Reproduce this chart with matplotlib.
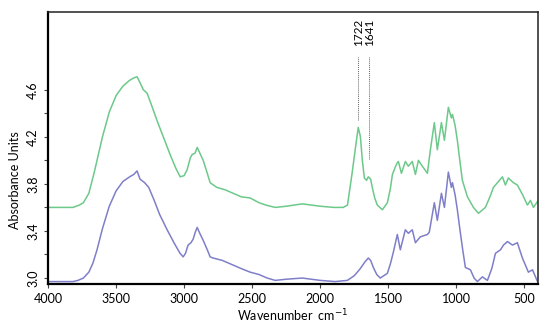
import numpy as np
import matplotlib
matplotlib.use("Agg")
import matplotlib.pyplot as plt
from matplotlib.ticker import MultipleLocator, FixedLocator

plt.rcParams['font.family'] = ['Lato', 'DejaVu Sans']

# upper (green) spectrum, wavenumber cm-1 / absorbance
wn_top = [4000, 3900, 3816, 3770, 3740, 3700, 3660, 3600, 3550, 3500, 3450,
          3400, 3370, 3346, 3320, 3300, 3272, 3240, 3200, 3150, 3100, 3060,
          3029, 3000, 2978, 2955, 2941, 2920, 2904, 2880, 2860, 2830, 2809,
          2760, 2700, 2640, 2580, 2515, 2450, 2400, 2331, 2250, 2132, 2000,
          1900, 1831, 1800, 1765, 1740, 1721, 1705, 1691, 1676, 1660, 1647,
          1630, 1618, 1600, 1581, 1544, 1507, 1485, 1470, 1450, 1434, 1426,
          1404, 1375, 1353, 1324, 1301, 1279, 1250, 1213, 1191, 1162, 1140,
          1110, 1088, 1059, 1037, 1029, 1010, 993, 975, 956, 919, 875, 838,
          787, 750, 728, 691, 662, 640, 618, 581, 552, 515, 478, 456, 434,
          404]
ab_top = [3.60, 3.60, 3.60, 3.62, 3.64, 3.72, 3.90, 4.20, 4.41, 4.55, 4.63,
          4.68, 4.70, 4.71, 4.65, 4.60, 4.57, 4.47, 4.34, 4.19, 4.04, 3.93,
          3.86, 3.87, 3.92, 4.02, 4.05, 4.06, 4.11, 4.05, 4.00, 3.89, 3.81,
          3.77, 3.75, 3.72, 3.69, 3.68, 3.64, 3.62, 3.60, 3.61, 3.63, 3.61,
          3.60, 3.60, 3.62, 3.90, 4.12, 4.28, 4.20, 4.00, 3.85, 3.83, 3.86,
          3.84, 3.77, 3.68, 3.62, 3.58, 3.64, 3.76, 3.88, 3.94, 3.98, 3.99,
          3.89, 3.99, 3.95, 3.99, 3.88, 4.00, 3.95, 3.89, 4.09, 4.32, 4.09,
          4.32, 4.17, 4.45, 4.36, 4.39, 4.30, 4.17, 4.00, 3.83, 3.69, 3.60,
          3.55, 3.60, 3.70, 3.77, 3.82, 3.86, 3.79, 3.85, 3.81, 3.79, 3.71,
          3.62, 3.66, 3.60, 3.65]

# lower (blue) spectrum
wn_bot = [4000, 3900, 3816, 3780, 3740, 3700, 3669, 3640, 3600, 3550, 3500,
          3450, 3400, 3370, 3346, 3324, 3290, 3260, 3220, 3180, 3125, 3070,
          3030, 3007, 2990, 2971, 2950, 2934, 2918, 2904, 2885, 2860, 2830,
          2809, 2787, 2720, 2640, 2580, 2515, 2450, 2390, 2331, 2250, 2132,
          2000, 1890, 1801, 1750, 1706, 1670, 1647, 1630, 1610, 1585, 1559,
          1507, 1485, 1463, 1434, 1412, 1375, 1353, 1324, 1301, 1265, 1213,
          1199, 1162, 1140, 1110, 1088, 1059, 1037, 1029, 1010, 993, 975,
          956, 934, 897, 870, 846, 809, 772, 740, 713, 676, 654, 625, 588,
          552, 515, 471, 441, 404]
ab_bot = [2.97, 2.97, 2.97, 2.98, 3.00, 3.05, 3.13, 3.24, 3.42, 3.61, 3.74,
          3.82, 3.86, 3.88, 3.91, 3.84, 3.81, 3.77, 3.66, 3.54, 3.41, 3.29,
          3.21, 3.18, 3.21, 3.28, 3.30, 3.33, 3.39, 3.43, 3.38, 3.32, 3.24,
          3.18, 3.17, 3.15, 3.11, 3.08, 3.05, 3.03, 3.00, 2.98, 2.99, 3.00,
          2.98, 2.97, 2.98, 3.02, 3.08, 3.14, 3.17, 3.15, 3.09, 3.03, 3.00,
          3.04, 3.12, 3.22, 3.37, 3.24, 3.41, 3.38, 3.41, 3.30, 3.35, 3.37,
          3.39, 3.64, 3.49, 3.72, 3.60, 3.90, 3.77, 3.81, 3.71, 3.58, 3.42,
          3.26, 3.09, 3.07, 3.00, 2.97, 3.01, 2.98, 3.08, 3.21, 3.24, 3.28,
          3.31, 3.28, 3.30, 3.17, 3.05, 3.07, 2.97]

peaks = [1722, 1641]
line_lo = [4.34, 4.01]

fig = plt.figure(figsize=(5.5, 3.29), dpi=100)
ax = fig.add_axes([0.0873, 0.137, 0.891, 0.8265])

ax.plot(wn_top, ab_top, color='#6cc98a', lw=1.1)
ax.plot(wn_bot, ab_bot, color='#7f7fc9', lw=1.1)

# dotted markers with labels
for p, lo in zip(peaks, line_lo):
    ax.plot([p, p], [lo, 4.88], color='#666666', lw=0.7, ls=(0, (1, 1)))
    ax.text(p, 4.97, str(p), rotation=90, ha='center', va='bottom', fontsize=8.5)

ax.set_xlim(4000, 400)
ax.set_ylim(2.95, 5.26)
ax.xaxis.set_major_locator(MultipleLocator(500))
ax.set_yticks([3.0, 3.4, 3.8, 4.2, 4.6])
ax.yaxis.set_minor_locator(FixedLocator([3.2, 3.6, 4.0, 4.4]))
ax.tick_params(axis='both', which='both', direction='out', length=3, width=0.8,
               labelsize=9, color='#444444')
ax.tick_params(axis='y', which='major', labelrotation=90)
for lab in ax.get_yticklabels():
    lab.set_va('center')

ax.set_xlabel('Wavenumber  cm$^{-1}$', fontsize=9, labelpad=2)
ax.set_ylabel('Absorbance Units', fontsize=9, labelpad=2)
ax.yaxis.set_label_coords(-0.056, 0.38)

for side in ['left', 'bottom']:
    ax.spines[side].set_linewidth(1.6)
for side in ['top', 'right']:
    ax.spines[side].set_linewidth(1.1)
    ax.spines[side].set_color('#222222')

fig.savefig('out.png', dpi=100)
